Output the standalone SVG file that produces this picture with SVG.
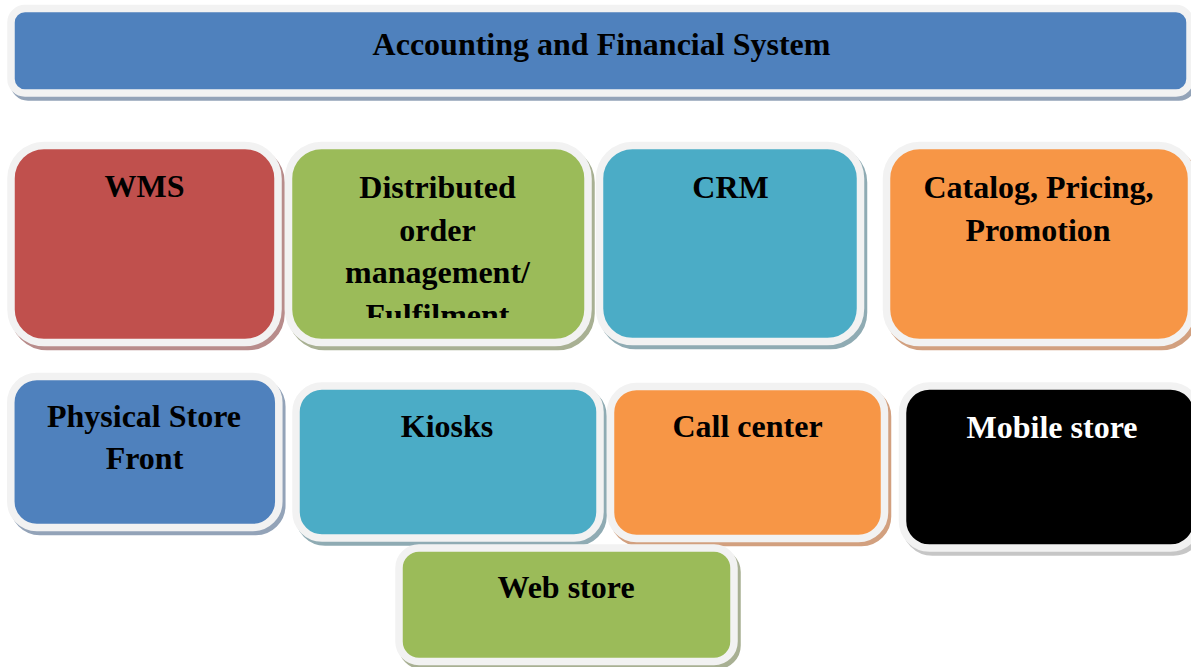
<svg xmlns="http://www.w3.org/2000/svg" width="1191" height="667" viewBox="0 0 1191 667">
<defs>
<style>
.box{stroke:#f2f2f2;stroke-width:7.5}
.sh{stroke-width:7.5}
.t{font-family:"Liberation Serif","Times New Roman",serif;font-weight:bold;font-size:32px;text-anchor:middle;fill:#000}
.w{fill:#fff}
</style>
<clipPath id="clipDom"><rect x="292" y="149" width="292" height="169"/></clipPath>
</defs>
<rect width="1191" height="667" fill="#fff"/>
<g id="connectors"></g>

<g id="accounting">
<rect class="sh" x="14" y="12.5" width="1179" height="84.5" rx="14" fill="#93a3b8" stroke="#93a3b8"/>
<rect class="box" x="11" y="8.5" width="1179" height="84.5" rx="14" fill="#4f81bd"/>
<text class="t" x="601.5" y="55">Accounting and Financial System</text>
</g>

<g id="wms">
<rect class="sh" x="14" y="149.5" width="267" height="197" rx="33" fill="#b88c8b" stroke="#b88c8b"/>
<rect class="box" x="11" y="145.5" width="267" height="197" rx="33" fill="#c0504d"/>
<text class="t" x="144.5" y="197">WMS</text>
</g>

<g id="dom">
<rect class="sh" x="291.5" y="149.5" width="299.5" height="197" rx="33" fill="#a8b093" stroke="#a8b093"/>
<rect class="box" x="288.5" y="145.5" width="299.5" height="197" rx="33" fill="#9bbb59"/>
<g clip-path="url(#clipDom)">
<text class="t" x="437.5" y="198">Distributed</text>
<text class="t" x="437.5" y="240.5">order</text>
<text class="t" x="437.5" y="283">management/</text>
<text class="t" x="437.5" y="325.5">Fulfilment</text>
</g>
</g>

<g id="crm">
<rect class="sh" x="602.5" y="149.5" width="261" height="196" rx="33" fill="#8fabb3" stroke="#8fabb3"/>
<rect class="box" x="599.5" y="145.5" width="261" height="196" rx="33" fill="#4bacc6"/>
<text class="t" x="730.5" y="198">CRM</text>
</g>

<g id="catalog">
<rect class="sh" x="889.5" y="149.5" width="305" height="197" rx="33" fill="#d2a07f" stroke="#d2a07f"/>
<rect class="box" x="886.5" y="145.5" width="305" height="197" rx="33" fill="#f79646"/>
<text class="t" x="1038.5" y="198">Catalog, Pricing,</text>
<text class="t" x="1038" y="241">Promotion</text>
</g>

<g id="physical">
<rect class="sh" x="13.8" y="380.5" width="268" height="151" rx="26" fill="#93a3b8" stroke="#93a3b8"/>
<rect class="box" x="10.8" y="376.5" width="268" height="151" rx="26" fill="#4f81bd"/>
<text class="t" x="144" y="427">Physical Store</text>
<text class="t" x="144.5" y="469">Front</text>
</g>

<g id="kiosks">
<rect class="sh" x="299" y="390" width="304" height="152" rx="26" fill="#8fabb3" stroke="#8fabb3"/>
<rect class="box" x="296" y="386" width="304" height="152" rx="26" fill="#4bacc6"/>
<text class="t" x="447" y="437">Kiosks</text>
</g>

<g id="callcenter">
<rect class="sh" x="613.5" y="390.5" width="274" height="152" rx="26" fill="#d2a07f" stroke="#d2a07f"/>
<rect class="box" x="610.5" y="386.5" width="274" height="152" rx="26" fill="#f79646"/>
<text class="t" x="747.5" y="437">Call center</text>
</g>

<g id="mobile">
<rect class="sh" x="905.5" y="390" width="295" height="162" rx="27" fill="#c6c6c6" stroke="#c6c6c6"/>
<rect class="box" x="902.5" y="386" width="295" height="162" rx="27" fill="#000"/>
<text class="t w" x="1052" y="438">Mobile store</text>
</g>

<g id="webstore">
<rect class="sh" x="402" y="552" width="335" height="113.5" rx="20" fill="#a8b093" stroke="#a8b093"/>
<rect class="box" x="399" y="548" width="335" height="113.5" rx="20" fill="#9bbb59"/>
<text class="t" x="566" y="598">Web store</text>
</g>
</svg>
